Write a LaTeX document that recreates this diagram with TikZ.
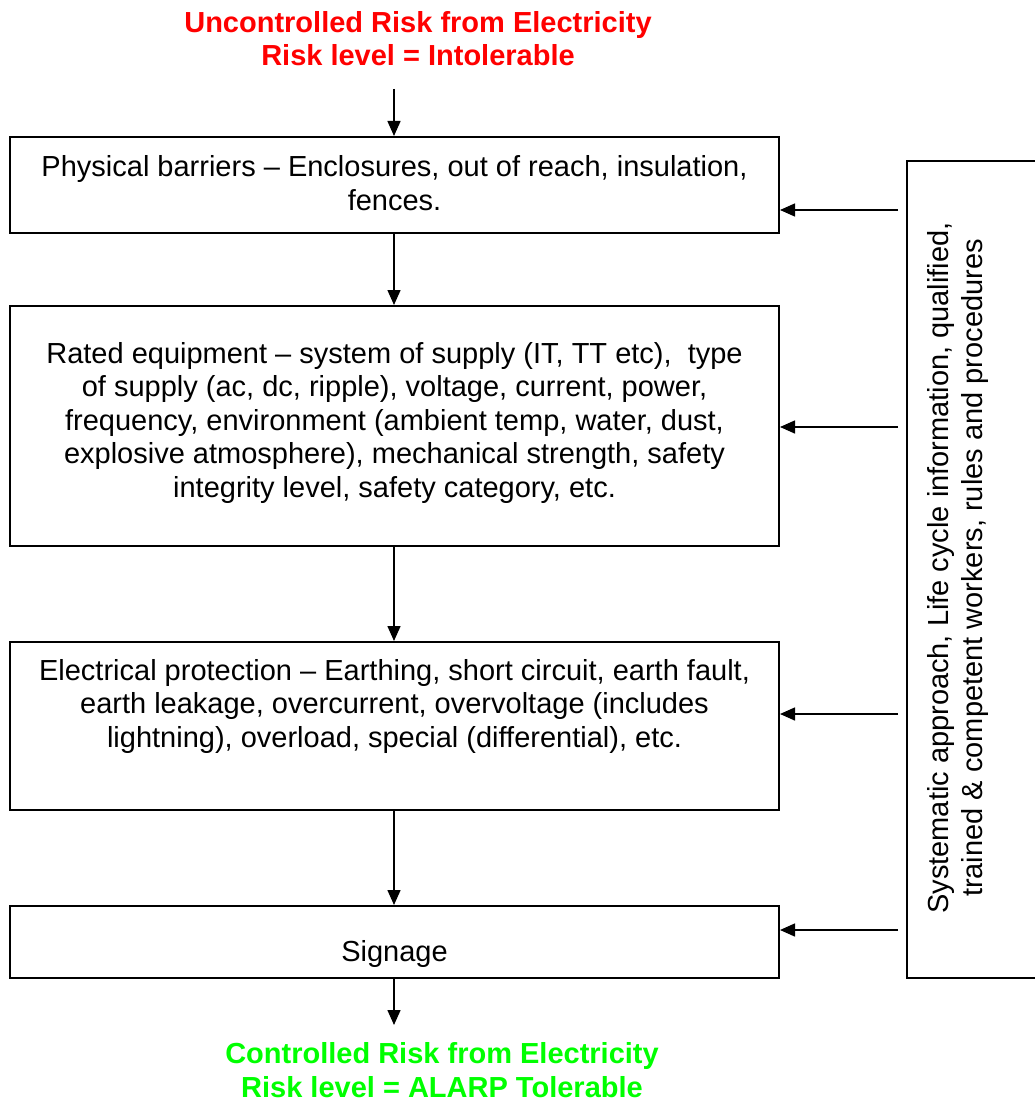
\documentclass[tikz,border=0pt]{standalone}
\usepackage{fontspec}
\setmainfont{Liberation Sans}
\usetikzlibrary{arrows.meta}
\definecolor{titlered}{RGB}{255,0,0}
\definecolor{titlegreen}{RGB}{0,255,0}
\tikzset{
  stepbox/.style={draw=black, line width=2pt, rectangle, inner sep=0pt},
  boxtext/.style={align=center, inner sep=0pt, anchor=base, font=\fontsize{29pt}{33.5pt}\selectfont},
  titletext/.style={align=center, inner sep=0pt, anchor=base, font=\fontsize{29pt}{33.5pt}\selectfont\bfseries},
  flow/.style={line width=1.5pt, -{Triangle[length=15pt,width=13pt]}},
}
\begin{document}
\begin{tikzpicture}[x=1pt,y=-1pt]
\useasboundingbox (0,0) rectangle (1034,1102);

% title (base anchor = last line's baseline)
\node[titletext, text=titlered] (top) at (418,66) {Uncontrolled Risk from Electricity\\Risk level = Intolerable};
\coordinate (topend) at (394,89);

% boxes
\node[stepbox, minimum width=769pt, minimum height=96pt] (b1) at (394.5,185) {};
\node[stepbox, minimum width=769pt, minimum height=240pt] (b2) at (394.5,426) {};
\node[stepbox, minimum width=769pt, minimum height=168pt] (b3) at (394.5,726) {};
\node[stepbox, minimum width=769pt, minimum height=72pt] (b4) at (394.5,942) {};

\node[boxtext] (t1) at (394.5,210) {Physical barriers -- Enclosures, out of reach, insulation,\\fences.};
\node[boxtext] (t2) at (394.5,497) {Rated equipment -- system of supply (IT, TT etc),~ type\\of supply (ac, dc, ripple), voltage, current, power,\\frequency, environment (ambient temp, water, dust,\\explosive atmosphere), mechanical strength, safety\\integrity level, safety category, etc.};
\node[boxtext] (t3) at (394.5,747) {Electrical protection -- Earthing, short circuit, earth fault,\\earth leakage, overcurrent, overvoltage (includes\\lightning), overload, special (differential), etc.};
\node[boxtext] (t4) at (394.5,961) {Signage};

% side box
\node[stepbox, minimum width=140pt, minimum height=817pt] (side) at (977,569.5) {};
\node[align=center, inner sep=0pt, rotate=90, font=\fontsize{29pt}{33.5pt}\selectfont] (sidetext) at (958,568) {Systematic approach, Life cycle information, qualified,\\trained \& competent workers, rules and procedures};

% bottom title
\node[titletext, text=titlegreen] (bottom) at (442,1097) {Controlled Risk from Electricity\\Risk level = ALARP Tolerable};
\coordinate (botend) at (394,1025);

% vertical flow
\draw[flow] (topend) -- (b1.north -| topend);
\draw[flow] (b1.south -| topend) -- (b2.north -| topend);
\draw[flow] (b2.south -| topend) -- (b3.north -| topend);
\draw[flow] (b3.south -| topend) -- (b4.north -| topend);
\draw[flow] (b4.south -| topend) -- (botend);

% side arrows
\coordinate (s1) at (898,210);
\coordinate (s2) at (898,427);
\coordinate (s3) at (898,714);
\coordinate (s4) at (898,930);
\draw[flow] (s1) -- (s1 -| b1.east);
\draw[flow] (s2) -- (s2 -| b2.east);
\draw[flow] (s3) -- (s3 -| b3.east);
\draw[flow] (s4) -- (s4 -| b4.east);
\end{tikzpicture}
\end{document}
